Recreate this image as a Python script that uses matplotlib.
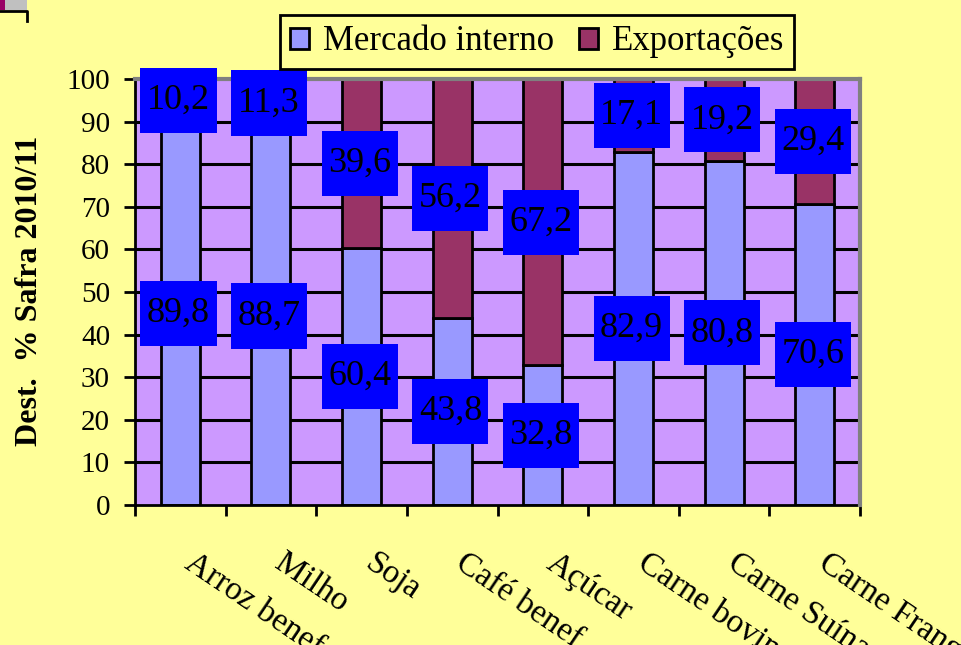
import matplotlib
matplotlib.use("Agg")
import matplotlib.pyplot as plt
from matplotlib.patches import Rectangle, Patch
from matplotlib.transforms import blended_transform_factory

categories = ["Arroz benef", "Milho", "Soja", "Café benef", "Açúcar",
              "Carne bovina", "Carne Suína", "Carne Frango"]
mercado_interno = [89.8, 88.7, 60.4, 43.8, 32.8, 82.9, 80.8, 70.6]
exportacoes = [10.2, 11.3, 39.6, 56.2, 67.2, 17.1, 19.2, 29.4]
yticks = list(range(0, 101, 10))
series_names = ["Mercado interno", "Exportações"]

BG = "#FFFF99"
PLOT_BG = "#CC99FF"
C_MI = "#9999FF"
C_EX = "#993366"
BOX = "#0000FF"
FONT = ["Liberation Serif", "DejaVu Serif"]

plt.rcParams["font.family"] = FONT

fig = plt.figure(figsize=(9.62, 6.45), dpi=100, facecolor=BG)
ax = fig.add_axes([135/962, 1-505/645, 725/962, 426/645])
ax.set_facecolor(PLOT_BG)

x = list(range(len(categories)))
ax.set_xlim(-0.5, len(categories) - 0.5)
ax.set_ylim(0, 100)

# grid
for t in yticks[1:-1]:
    ax.axhline(t, color="black", lw=2.2, zorder=1)

bw = 0.43
ax.bar(x, mercado_interno, width=bw, color=C_MI, edgecolor="black", lw=2, zorder=2)
ax.bar(x, exportacoes, width=bw, bottom=mercado_interno, color=C_EX,
       edgecolor="black", lw=2, zorder=2)

# value labels in blue boxes
bwid, bhei = 0.84, 15.3
for i in x:
    for val, base in ((mercado_interno[i], 0), (exportacoes[i], mercado_interno[i])):
        cy = base + val / 2
        ax.add_patch(Rectangle((i - bwid/2 - 0.02, cy - bhei/2), bwid, bhei,
                               facecolor=BOX, edgecolor="none", zorder=5, clip_on=False))
        ax.text(i - 0.02, cy, f"{val:.1f}".replace(".", ","), ha="center", va="center",
                fontsize=26, color="black", zorder=6, clip_on=False)

# spines
for s in ("top", "right"):
    ax.spines[s].set_color("#808080")
    ax.spines[s].set_linewidth(3)
for s in ("left", "bottom"):
    ax.spines[s].set_color("black")
    ax.spines[s].set_linewidth(2)
ax.spines["top"].set_zorder(3)
ax.spines["right"].set_zorder(3)

ax.set_yticks(yticks)
ax.set_yticklabels([str(t) for t in yticks], fontsize=21)
ax.tick_params(axis="y", length=8, width=2, pad=10, direction="out")

ax.set_xticks([i - 0.5 for i in range(len(categories) + 1)])
ax.set_xticklabels([])
ax.tick_params(axis="x", length=8, width=2, direction="out")

tr = blended_transform_factory(ax.transData, ax.transAxes)
for i, lab in enumerate(categories):
    ax.text(i + 0.17, -0.1, lab, transform=tr,
            rotation=-34, rotation_mode="anchor", ha="left", va="top",
            fontsize=24, color="black", clip_on=False)

fig.text(30/962, 1-291/645, "Dest.  % Safra 2010/11", rotation=90,
         ha="center", va="center", fontsize=23, fontweight="bold")

handles = [Patch(facecolor=C_MI, edgecolor="black", lw=2),
           Patch(facecolor=C_EX, edgecolor="black", lw=2)]
leg = fig.legend(handles, series_names, loc="center", ncol=2,
                 bbox_to_anchor=(537/962, 1-42/645), fontsize=25,
                 frameon=True, fancybox=False, edgecolor="black", facecolor=BG,
                 handlelength=0.55, handleheight=0.55, handletextpad=0.4,
                 columnspacing=0.7, borderpad=0.3, framealpha=1)
leg.get_frame().set_linewidth(2)

# top-left artifact
fig.patches.append(Rectangle((0, 1-10/645), 27/962, 10/645, transform=fig.transFigure,
                             facecolor="#C0C0C0", edgecolor="none"))
fig.patches.append(Rectangle((0, 1-10/645), 5/962, 10/645, transform=fig.transFigure,
                             facecolor="#990066", edgecolor="none"))
fig.lines.append(plt.Line2D([0, 27/962, 27/962], [1-11/645, 1-11/645, 1-21/645],
                            transform=fig.transFigure, color="black", lw=2))

fig.savefig("out.png", dpi=100, facecolor=BG)
